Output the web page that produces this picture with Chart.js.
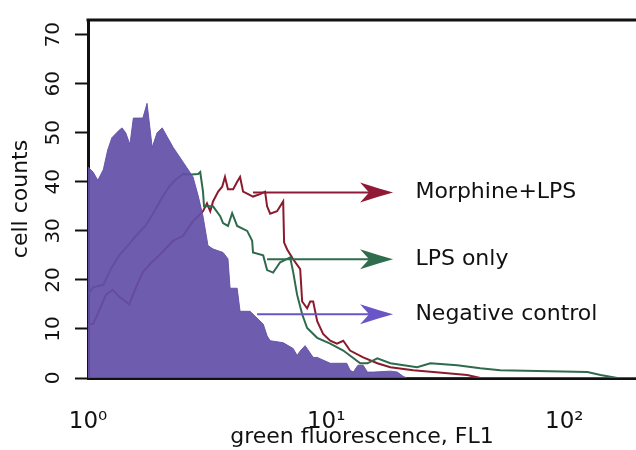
<!DOCTYPE html>
<html>
<head>
<meta charset="utf-8">
<script src="https://cdn.jsdelivr.net/npm/chart.js@4.4.1/dist/chart.umd.min.js"></script>
<style>
  html, body { margin: 0; padding: 0; background: #fff; }
  .box { width: 636px; height: 450px; position: relative; }
</style>
</head>
<body>
<div class="box"><canvas id="histo"></canvas></div>
<script>
"use strict";

// negative control (filled purple)
const controlX = [1.00, 1.05, 1.10, 1.16, 1.21, 1.26, 1.35, 1.39, 1.44, 1.50, 1.55, 1.70, 1.77, 1.86, 1.95, 2.05, 2.15, 2.28, 2.51, 2.76, 2.90, 3.04, 3.19, 3.35, 3.69, 3.87, 3.95, 4.23, 4.35, 4.79, 5.18, 5.44, 5.65, 5.82, 6.60, 7.27, 7.55, 7.78, 8.16, 8.82, 9.17, 10.4, 12.2, 12.6, 13.0, 13.6, 14.3, 14.9, 15.8, 18.6, 19.9, 21.1, 21.9, 200];
const controlCounts = [43, 42, 40.3, 42.5, 46.5, 49, 50.5, 51, 50, 47.6, 53, 53, 56, 47, 50, 51, 49.2, 47, 44, 41, 37.2, 33, 27, 26.3, 25.6, 24.3, 18.3, 18.3, 13.6, 13.6, 12, 11, 8.6, 7.6, 7.2, 6, 4.6, 5.5, 6.6, 4.2, 4.2, 3, 3, 1.6, 1.2, 2.6, 2.6, 1.2, 1.2, 1.4, 1.2, 0.3, 0, 0];

// LPS only (green line)
const lpsX = [1.00, 1.05, 1.16, 1.24, 1.35, 1.47, 1.59, 1.74, 1.88, 2.03, 2.19, 2.34, 2.51, 2.71, 2.90, 2.96, 3.04, 3.07, 3.35, 3.59, 3.69, 3.87, 4.03, 4.23, 4.66, 4.89, 4.93, 5.44, 5.65, 5.99, 6.41, 7.06, 7.27, 7.55, 7.93, 8.32, 9.17, 10.4, 11.8, 13.9, 14.9, 16.4, 18.6, 24.1, 27.4, 35.5, 44.4, 53.8, 125, 142, 167, 200];
const lpsCounts = [17, 18.5, 19, 22, 25, 27, 29, 31, 33.6, 36.5, 39, 40.5, 41.6, 41.5, 41.6, 42, 38, 35, 35, 33, 31.6, 31, 33.6, 31, 30, 28, 25.6, 25, 22, 21.5, 23.6, 24.6, 21.6, 17, 13, 10.2, 8.2, 7, 5.6, 3, 3, 4, 3, 2.2, 3, 2.6, 2, 1.6, 1.2, 0.6, 0, 0];

// Morphine + LPS (dark red line)
const morphineX = [1.00, 1.00, 1.05, 1.12, 1.19, 1.27, 1.36, 1.49, 1.59, 1.70, 1.84, 1.99, 2.13, 2.28, 2.51, 2.63, 2.76, 2.90, 3.04, 3.16, 3.26, 3.35, 3.52, 3.66, 3.76, 3.87, 4.07, 4.23, 4.35, 4.48, 4.66, 4.93, 5.28, 5.54, 5.65, 5.82, 6.22, 6.60, 6.66, 6.86, 7.27, 7.78, 7.93, 8.32, 8.57, 8.82, 9.17, 9.71, 10.4, 11.1, 11.8, 12.6, 14.3, 16.4, 18.6, 23.2, 28.2, 39.1, 44.4, 200];
const morphineCounts = [0, 11, 11, 14, 17, 18, 16.5, 15, 18.5, 21.6, 23.5, 25, 26.5, 28, 29, 30.5, 32, 33, 34, 35.6, 34, 36, 38, 39, 41, 38.5, 38.5, 40, 41, 38, 37.6, 37, 37.5, 38, 35, 33.5, 34, 36, 27.6, 26.2, 24.2, 22.2, 15.6, 14.2, 15.6, 15.6, 11.6, 9, 7.6, 7, 7.6, 5.6, 4.2, 3, 2.2, 1.6, 1.2, 0.6, 0, 0];

// axis ticks
const xTickValues = [1, 10, 100];
const xTickLabels = ["10\u2070", "10\u00b9", "10\u00b2"];
const yTickValues = [0, 10, 20, 30, 40, 50, 60, 70];

// arrow labels on the right
const seriesNames = ["Morphine+LPS", "LPS only", "Negative control"];
const arrowCounts = [37.8, 24.2, 13];
const arrowFrom = [4.93, 5.65, 5.13];
const arrowTip = 19.1;
const labelAt = 23.7;

const RED = "#8a1b2d";
const GREEN = "#2f6a4c";
const PURPLE = "rgba(99, 80, 168, 0.93)";
const arrowColors = ["#901a36", "#2e6d4e", "#6a55c6"];

Chart.defaults.font.family = "'DejaVu Sans', sans-serif";
Chart.defaults.color = "#111";

function pts(xs, ys) {
  return xs.map((v, i) => ({ x: v, y: ys[i] }));
}

function arrowHead(ctx, tx, ty) {
  ctx.beginPath();
  ctx.moveTo(tx, ty);
  ctx.lineTo(tx - 14, ty - 4);
  ctx.lineTo(tx - 33, ty - 10);
  ctx.lineTo(tx - 24, ty);
  ctx.lineTo(tx - 33, ty + 10);
  ctx.lineTo(tx - 14, ty + 4);
  ctx.closePath();
  ctx.fill();
}

const annotations = {
  id: "annotations",
  afterDraw(chart) {
    const { ctx, chartArea, scales } = chart;
    const x = scales.x;
    const y = scales.y;
    ctx.save();
    // top frame line
    ctx.strokeStyle = "#111";
    ctx.lineWidth = 3;
    ctx.beginPath();
    ctx.moveTo(chartArea.left - 1.5, chartArea.top);
    ctx.lineTo(chartArea.right, chartArea.top);
    ctx.stroke();

    ctx.font = "22px 'DejaVu Sans'";
    ctx.textBaseline = "middle";
    seriesNames.forEach((name, i) => {
      const py = y.getPixelForValue(arrowCounts[i]);
      const x0 = x.getPixelForValue(arrowFrom[i]);
      const x1 = x.getPixelForValue(arrowTip);
      ctx.strokeStyle = arrowColors[i];
      ctx.fillStyle = arrowColors[i];
      ctx.lineWidth = 2;
      ctx.beginPath();
      ctx.moveTo(x0, py);
      ctx.lineTo(x1 - 20, py);
      ctx.stroke();
      arrowHead(ctx, x1, py);
      ctx.fillStyle = "#111";
      ctx.fillText(name, x.getPixelForValue(labelAt), py);
    });
    ctx.restore();
  },
};

const config = {
  type: "line",
  data: {
    datasets: [
      {
        label: "Negative control",
        data: pts(controlX, controlCounts),
        borderColor: PURPLE,
        backgroundColor: PURPLE,
        borderWidth: 1,
        fill: "origin",
        pointRadius: 0,
        order: 0,
      },
      {
        label: "LPS only",
        data: pts(lpsX, lpsCounts),
        borderColor: GREEN,
        borderWidth: 2,
        fill: false,
        pointRadius: 0,
        order: 1,
      },
      {
        label: "Morphine+LPS",
        data: pts(morphineX, morphineCounts),
        borderColor: RED,
        borderWidth: 2,
        fill: false,
        pointRadius: 0,
        order: 2,
      },
    ],
  },
  options: {
    responsive: true,
    maintainAspectRatio: false,
    animation: false,
    layout: { padding: { left: 0, top: 13, right: 0, bottom: 0 } },
    plugins: {
      legend: { display: false },
      tooltip: { enabled: false },
    },
    scales: {
      x: {
        type: "logarithmic",
        min: 1,
        max: 200,
        afterBuildTicks: (scale) => {
          scale.ticks = xTickValues.map((v) => ({ value: v }));
        },
        afterFit: (scale) => {
          scale.height = 72;
        },
        grid: { display: true, drawOnChartArea: false, drawTicks: false },
        border: { display: true, color: "#111", width: 3 },
        ticks: {
          autoSkip: false,
          maxRotation: 0,
          padding: 30,
          font: { size: 23 },
          callback: (value) => {
            const i = xTickValues.indexOf(value);
            return i >= 0 ? xTickLabels[i] : "";
          },
        },
        title: {
          display: true,
          text: "green fluorescence, FL1",
          font: { size: 22 },
          padding: { top: 0, bottom: 0 },
        },
      },
      y: {
        type: "linear",
        min: 0,
        max: 73,
        afterBuildTicks: (scale) => {
          scale.ticks = yTickValues.map((v) => ({ value: v }));
        },
        afterFit: (scale) => {
          scale.width = 88;
        },
        grid: {
          drawOnChartArea: false,
          drawTicks: true,
          tickLength: 13,
          tickWidth: 2,
          tickColor: "#111",
        },
        border: { display: true, color: "#111", width: 3 },
        ticks: {
          minRotation: 90,
          maxRotation: 90,
          crossAlign: "center",
          padding: 8,
          font: { size: 20 },
        },
        title: {
          display: true,
          text: "cell counts",
          font: { size: 22 },
          padding: { top: 8, bottom: 0 },
        },
      },
    },
  },
  plugins: [annotations],
};

const histo = new Chart(document.getElementById("histo").getContext("2d"), config);
</script>
</body>
</html>
